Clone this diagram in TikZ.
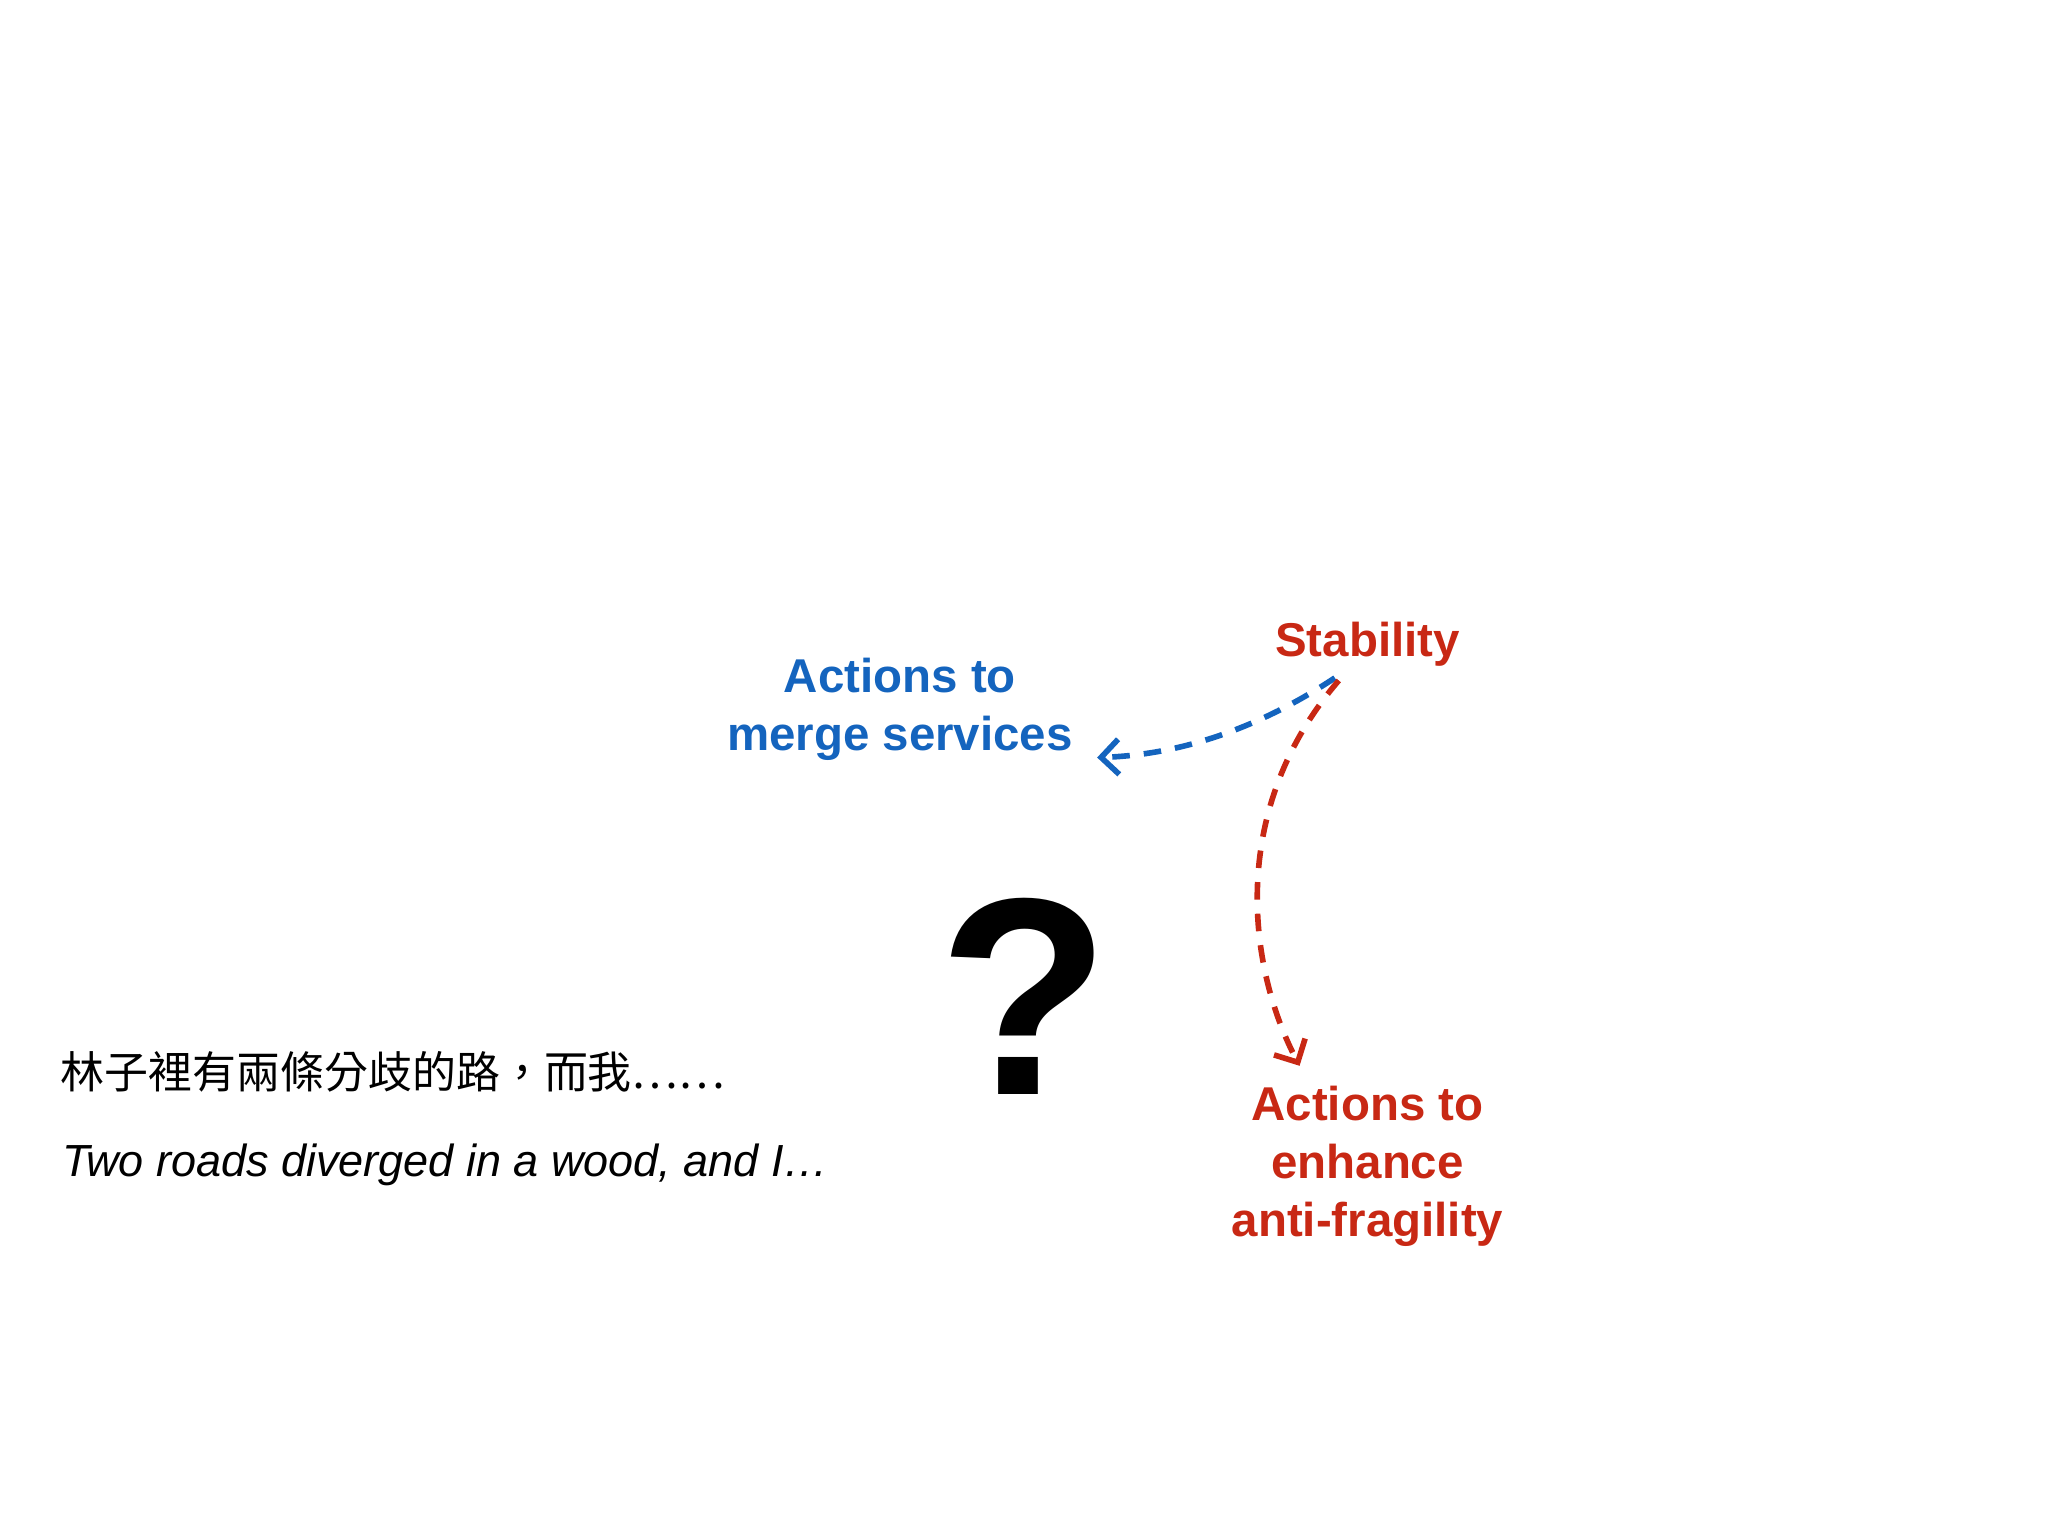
\documentclass[tikz,border=0pt]{standalone}
\usepackage{fontspec}
\setmainfont{Liberation Sans}
\newfontfamily\cjk{Noto Sans CJK TC}
\usetikzlibrary{arrows.meta}
\definecolor{myred}{RGB}{200,40,20}
\definecolor{myblue}{RGB}{20,100,190}
\tikzset{
  lbl/.style={font=\fontsize{13.5}{16.6}\selectfont\bfseries, align=center, inner sep=0pt},
  conn/.style={line width=1.6pt, dash pattern=on 5pt off 4pt, -{Straight Barb[length=5pt,width=10pt,line width=1.6pt]}}
}
\begin{document}
\begin{tikzpicture}[x=0.01306cm,y=-0.01306cm]
\useasboundingbox (0,0) rectangle (1568,1176);
\node[lbl, text=myred] (stab) at (1047,493) {Stability};
\node[lbl, text=myblue] (merge) at (689,543) {Actions to\\merge services};
\node[lbl, text=myred] (anti) at (1047,893) {Actions to\\enhance\\anti-fragility};
\node[font=\fontsize{80}{80}\selectfont\bfseries, inner sep=0pt] (q) at (784,763) {?};
\node[anchor=west, font=\cjk\fontsize{12.5}{14}\selectfont, inner sep=0pt] (zh) at (46,821) {林子裡有兩條分歧的路，而我⋯⋯};
\node[anchor=west, font=\fontsize{12.8}{14}\selectfont\itshape, inner sep=0pt] (en) at (47,892) {Two roads diverged in a wood, and I…};
\coordinate (s1) at (1022,519);
\coordinate (s2) at (1025,521);
\coordinate (mt) at (840,580);
\coordinate (at) at (995,816);
\draw[conn, myblue] (s1) .. controls (960,560) and (900,578) .. (mt);
\draw[conn, myred] (s2) .. controls (940,620) and (955,740) .. (at);
\end{tikzpicture}
\end{document}
